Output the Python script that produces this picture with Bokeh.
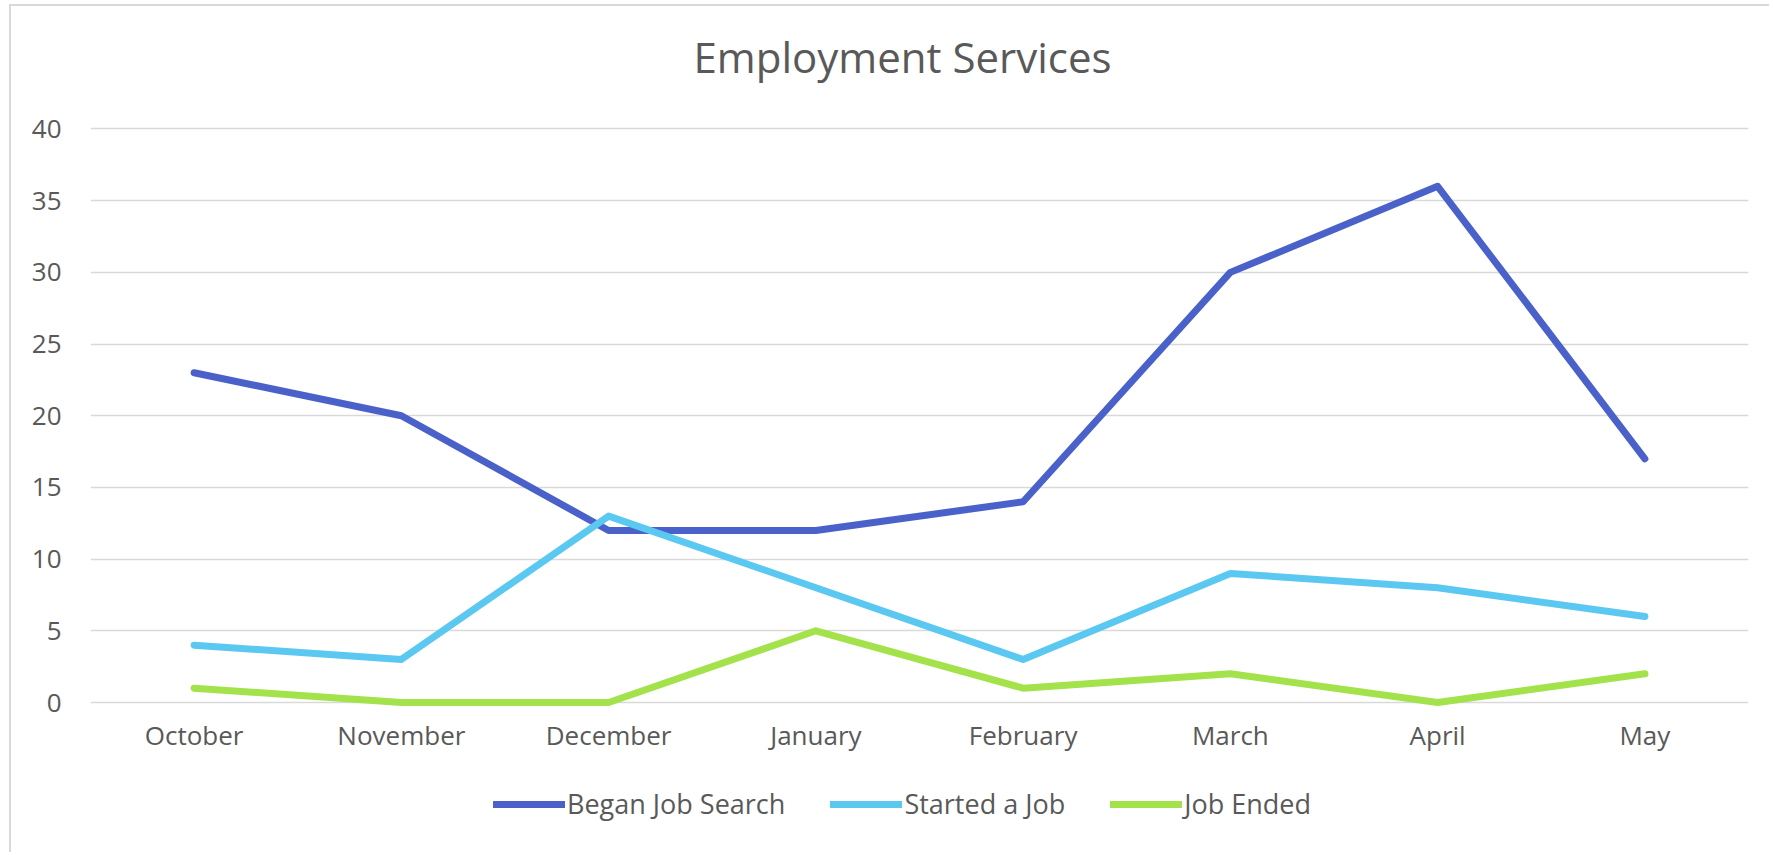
from bokeh.plotting import figure
from bokeh.models import FactorRange, Range1d, FixedTicker, Legend, LegendItem
from bokeh.embed import file_html
from bokeh.resources import INLINE

months = ["October", "November", "December", "January", "February", "March", "April", "May"]
began_job_search = [23, 20, 12, 12, 14, 30, 36, 17]
started_a_job = [4, 3, 13, 8, 3, 9, 8, 6]
job_ended = [1, 0, 0, 5, 1, 2, 0, 2]
y_ticks = [0, 5, 10, 15, 20, 25, 30, 35, 40]

series = [
    ("Began Job Search", began_job_search, "#4A61CA"),
    ("Started a Job", started_a_job, "#5BC8F2"),
    ("Job Ended", job_ended, "#A3E24B"),
]

FONT = "Open Sans"
TXT = "#595959"

p = figure(
    width=1760, height=848,
    x_range=FactorRange(factors=months),
    y_range=Range1d(-10.462, 42.685),
    output_backend="svg", toolbar_location=None,
    min_border_left=79, min_border_right=23,
    min_border_top=84, min_border_bottom=2,
)
p.styles = {
    "margin-left": "9px", "margin-top": "4px",
    "border-left": "2px solid #D9D9D9", "border-top": "2px solid #D9D9D9",
}
p.outline_line_color = None
p.background_fill_color = "white"
p.border_fill_color = "white"

p.title.text = "Employment Services"
p.title.text_font = FONT
p.title.text_font_size = "42px"
p.title.text_font_style = "normal"
p.title.text_color = TXT
p.title.align = "left"
p.title.offset = 603
p.title.standoff = 12

p.xgrid.grid_line_color = None
p.ygrid.grid_line_color = "#D9D9D9"
p.ygrid.grid_line_width = 1.5
p.yaxis.ticker = FixedTicker(ticks=y_ticks)

for ax in (p.xaxis[0], p.yaxis[0]):
    ax.axis_line_color = None
    ax.major_tick_line_color = None
    ax.minor_tick_line_color = None
    ax.major_tick_out = 0
    ax.major_tick_in = 0
    ax.major_label_text_font = FONT
    ax.major_label_text_font_size = "26px"
    ax.major_label_text_color = TXT
p.yaxis.major_label_standoff = 29
p.xaxis.fixed_location = 0
p.xaxis.major_label_standoff = 14

items = []
for name, vals, color in series:
    r = p.line(months, vals, line_color=color, line_width=7,
               line_join="round", line_cap="round")
    items.append(LegendItem(label=name, renderers=[r]))

legend = Legend(items=items, orientation="horizontal", location=(403, 30))
legend.padding = 0
legend.margin = 0
legend.border_line_color = None
legend.background_fill_alpha = 0
legend.glyph_width = 72
legend.glyph_height = 30
legend.label_height = 30
legend.label_standoff = 2
legend.spacing = 45
legend.label_text_font = FONT
legend.label_text_font_size = "27px"
legend.label_text_color = TXT
p.add_layout(legend, "center")

open("out.html", "w").write(file_html(p, INLINE))
